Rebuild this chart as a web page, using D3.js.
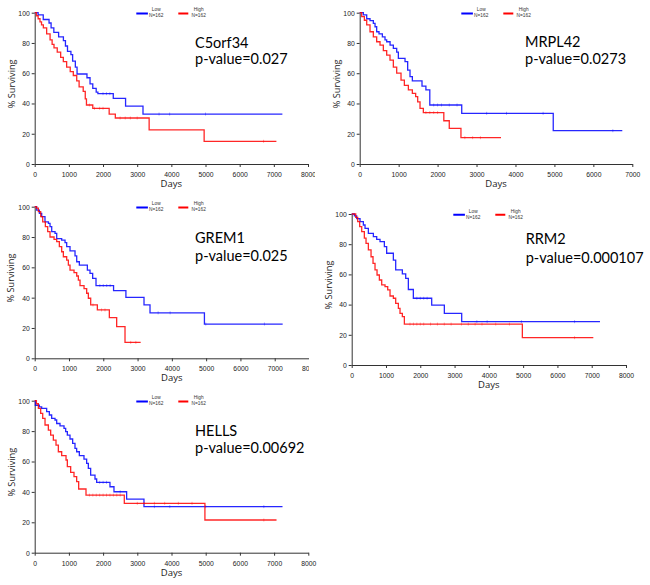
<!DOCTYPE html>
<html>
<head>
<meta charset="utf-8">
<script src="https://cdn.jsdelivr.net/npm/d3@7"></script>
<style>
body { margin: 0; background: #fff; }
svg { display: block; }
.tick text { font-family: "Liberation Sans", Arial, sans-serif; font-size: 6.8px; fill: #222; }
.domain, .tick line { stroke: #333; }
</style>
</head>
<body>
<script>
// values: [day, % surviving after the drop]
const genes = ["C5orf34", "MRPL42", "GREM1", "RRM2", "HELLS"];
const pValues = ["0.027", "0.0273", "0.025", "0.000107", "0.00692"];
const xMaxDays = [8000, 7000, 8000, 8000, 8000];
const groupNames = ["Low", "High"];
const groupN = ["N=162", "N=162"];
const yTicks = [0, 20, 40, 60, 80, 100];
const xTicks8000 = [0, 1000, 2000, 3000, 4000, 5000, 6000, 7000, 8000];
const xTicks7000 = [0, 1000, 2000, 3000, 4000, 5000, 6000, 7000];

const c5orf34Low = [[0,100],[100,98.5],[250,95.5],[420,93.2],[480,90],[560,87],[700,84],[840,81.5],[900,78],[960,74.5],[1060,72.3],[1110,68],[1190,64],[1240,59.5],[1530,57],[1620,53],[1700,50],[1800,47.5],[1850,46.5],[2300,43.4],[2660,38.3],[3170,33]];
const c5orf34High = [[0,100],[50,98],[100,96],[155,94],[200,92],[253,90],[350,86],[450,82],[510,79],[565,76.7],[660,74],[760,70.5],[838,67.6],[935,64],[1040,61],[1130,58.5],[1230,55],[1300,51],[1420,48],[1480,43],[1515,39],[1700,36.8],[2180,33],[2360,30.4],[3350,22.5],[4960,15]];
const mrpl42Low = [[0,100],[94,98.5],[180,96],[265,94.7],[350,93],[394,90.7],[436,87.4],[496,86],[582,84],[650,82],[693,80.8],[780,78.6],[864,76.4],[950,74],[993,69.8],[1164,67.6],[1232,62],[1292,57.7],[1352,55],[1600,51.5],[1700,49],[1800,39],[2620,33.5],[4970,22]];
const mrpl42High = [[0,100],[51,97.4],[120,95],[180,92],[265,87.4],[350,84],[436,80.8],[522,78.6],[607,75],[693,72],[778,68.7],[864,64],[950,60],[1061,55.5],[1147,52],[1250,49],[1352,46.7],[1437,44.5],[1489,41],[1549,36.8],[1634,34],[2160,28.6],[2300,23.5],[2600,17.4]];
const grem1Low = [[0,100],[58,97.8],[136,95.6],[204,93.4],[300,90],[400,89],[447,86.8],[496,83.5],[593,82.4],[642,79],[787,78],[885,76.3],[933,73.6],[1030,70.8],[1176,67.5],[1225,63.7],[1302,61.5],[1536,58.2],[1613,56],[1691,52.7],[1788,48],[2300,44.6],[2660,40.2],[3188,35.2],[3363,30],[4950,22.6]];
const grem1High = [[0,100],[50,99],[107,96.7],[175,93.4],[233,90],[311,86.8],[379,83.5],[447,80],[564,78.5],[642,76.9],[719,73.6],[787,70.3],[836,67],[933,64.8],[982,61.5],[1030,58.2],[1147,56.5],[1225,54.3],[1273,51.6],[1322,48],[1439,46],[1516,42.9],[1565,39.6],[1633,35.2],[1827,31.9],[2177,26.8],[2391,20.9],[2634,10.5]];
const rrm2Low = [[0,100],[78,98.7],[146,97],[243,95],[340,92.7],[389,90.5],[486,87.2],[632,85],[729,83.2],[826,81.7],[953,78.4],[1020,74],[1215,69.5],[1283,63],[1477,60.3],[1575,57.4],[1652,50],[1798,44.2],[2333,39.7],[2702,34.2],[3208,28.7]];
const rrm2High = [[0,100],[117,97.8],[175,95],[233,91.6],[292,88.3],[369,84],[418,80.6],[486,76.2],[564,71.7],[622,67.3],[680,63],[739,59.6],[807,56.3],[875,53],[972,51.9],[1050,49.7],[1118,45.7],[1215,44.2],[1283,40.8],[1361,37.5],[1409,34.2],[1477,32],[1536,27.1],[4977,18.1]];
const hellsLow = [[0,100],[20,97],[136,96],[204,95],[350,92.8],[428,90.6],[496,88.4],[594,87.3],[643,85],[740,83.5],[857,81.8],[906,79.6],[954,77.4],[1032,74.8],[1110,71.9],[1178,68.6],[1227,66.4],[1305,63.8],[1441,61.6],[1519,58.8],[1568,55.5],[1636,51.1],[1763,48.5],[1812,46.3],[2201,43.4],[2318,40.1],[2688,35.3],[3195,30.3]];
const hellsHigh = [[0,100],[50,98],[107,95],[175,91.7],[234,88.4],[302,84],[399,80.7],[467,77.4],[545,74.1],[623,70.8],[691,66.4],[789,63.8],[916,61],[954,56.6],[1052,52.9],[1149,50],[1227,46.7],[1286,41.9],[1500,37.9],[2620,32.5],[4977,21.5]];

const lowCurves = [c5orf34Low, mrpl42Low, grem1Low, rrm2Low, hellsLow];
const highCurves = [c5orf34High, mrpl42High, grem1High, rrm2High, hellsHigh];
const lowLastDay = [7250, 6743, 7232, 7241, 7246];
const highLastDay = [7075, 3628, 3091, 7047, 7071];

const lowCensored = [
  [2000, 2100, 2200, 3640, 3950, 5000],
  [1900, 2000, 2100, 2300, 2500, 3260, 3770, 4710, 6500],
  [1900, 2000, 2100, 2200, 3600, 3950, 4990, 6700],
  [1900, 2000, 2100, 2200, 3650, 3950, 4950, 6500],
  [1900, 2000, 2100, 2500, 3500, 3950, 5000, 6700]
];
const highCensored = [
  [1600, 1750, 1900, 2000, 2500, 2650, 2800, 3000, 6700],
  [1700, 1800, 1900, 2000, 2700, 2900, 3100],
  [1700, 1950, 2050, 2800, 2950],
  [1700, 1800, 1900, 2000, 2100, 2300, 2500, 2700, 2900, 3200, 3400, 3600, 3800, 4200, 4600, 6500],
  [1600, 1700, 1800, 1900, 2000, 2100, 2200, 2300, 2400, 2500, 3000, 3200, 3500, 3800, 4200, 4600, 6700]
];

// where each panel sits in the 650x585 figure
const frames = [
  {x0: 34.7, x1: 308, yTop: 12.7, yBot: 164, ylabX: 12, textX: 195, geneY: 48.3, pY: 64, clipR: 315},
  {x0: 359.7, x1: 632.3, yTop: 12.7, yBot: 164, ylabX: 337, textX: 525, geneY: 47, pY: 63.5, clipR: 650},
  {x0: 34.7, x1: 309, yTop: 206.7, yBot: 358.3, ylabX: 11, textX: 195, geneY: 243.3, pY: 261, clipR: 309},
  {x0: 351.7, x1: 626, yTop: 214, yBot: 365, ylabX: 328.5, textX: 525.7, geneY: 244.3, pY: 262.7, clipR: 650},
  {x0: 34.7, x1: 308.3, yTop: 400.7, yBot: 552.7, ylabX: 11.5, textX: 195, geneY: 436, pY: 453.3, clipR: 325}
];

const colors = ["#0000ff", "#ff0000"];

const svg = d3.select("body").append("svg")
  .attr("width", 650)
  .attr("height", 585);

frames.forEach((f, i) => {
  const clipId = "clip" + i;
  svg.append("clipPath").attr("id", clipId)
    .attr("clipPathUnits", "userSpaceOnUse")
    .append("rect")
    .attr("x", f.x0 - 40).attr("y", f.yTop - 15)
    .attr("width", f.clipR - (f.x0 - 40))
    .attr("height", f.yBot - f.yTop + 45);

  const g = svg.append("g").attr("clip-path", "url(#" + clipId + ")");

  const x = d3.scaleLinear().domain([0, xMaxDays[i]]).range([f.x0, f.x1]);
  const y = d3.scaleLinear().domain([0, 100]).range([f.yBot, f.yTop]);

  g.append("g")
    .attr("transform", "translate(0," + f.yBot + ")")
    .call(d3.axisBottom(x)
      .tickValues(xMaxDays[i] === 7000 ? xTicks7000 : xTicks8000)
      .tickFormat(d3.format("d"))
      .tickSize(3).tickSizeOuter(0).tickPadding(5));

  g.append("g")
    .attr("transform", "translate(" + f.x0 + ",0)")
    .call(d3.axisLeft(y)
      .tickValues(yTicks)
      .tickSize(3).tickSizeOuter(0).tickPadding(2))
    .selectAll(".tick text").attr("dy", "0.35em");

  g.append("text")
    .attr("x", (f.x0 + f.x1) / 2)
    .attr("y", f.yBot + 23)
    .attr("text-anchor", "middle")
    .style("font-family", "'Open Sans', sans-serif")
    .style("font-size", "9.5px")
    .style("fill", "#222")
    .text("Days");

  g.append("text")
    .attr("transform", "translate(" + f.ylabX + "," + ((f.yTop + f.yBot) / 2 - 4.5) + ") rotate(-90)")
    .attr("text-anchor", "middle")
    .attr("dy", "0.35em")
    .style("font-family", "'Open Sans', sans-serif")
    .style("font-size", "9.2px")
    .style("fill", "#222")
    .text("% Surviving");

  // curves
  const line = d3.line()
    .x(d => x(d[0]))
    .y(d => y(d[1]))
    .curve(d3.curveStepAfter);

  const series = [
    {steps: lowCurves[i], last: lowLastDay[i], cens: lowCensored[i]},
    {steps: highCurves[i], last: highLastDay[i], cens: highCensored[i]}
  ];
  const bis = d3.bisector(d => d[0]).right;

  series.forEach((s, k) => {
    const pts = s.steps.concat([[s.last, s.steps[s.steps.length - 1][1]]]);
    g.append("path")
      .attr("d", line(pts))
      .attr("fill", "none")
      .attr("stroke", colors[k])
      .attr("stroke-width", 1.3)
      .attr("stroke-opacity", 0.85);

    g.selectAll(null)
      .data(s.cens.filter(t => t <= s.last))
      .enter().append("line")
      .attr("x1", t => x(t)).attr("x2", t => x(t))
      .attr("y1", t => y(s.steps[bis(s.steps, t) - 1][1]) - 1.5)
      .attr("y2", t => y(s.steps[bis(s.steps, t) - 1][1]) + 1.5)
      .attr("stroke", colors[k])
      .attr("stroke-width", 0.6)
      .attr("stroke-opacity", 0.6);
  });

  // legend
  const leg = g.append("g").attr("transform", "translate(" + f.x0 + "," + f.yTop + ")");
  const legX = [101.6, 143.6];
  const legW = [11.6, 10];
  const legTextX = [121.5, 164];
  groupNames.forEach((name, k) => {
    leg.append("line")
      .attr("x1", legX[k]).attr("x2", legX[k] + legW[k])
      .attr("y1", 0.8).attr("y2", 0.8)
      .attr("stroke", colors[k])
      .attr("stroke-width", 2);
    leg.append("text")
      .attr("x", legTextX[k]).attr("y", -1.3)
      .attr("text-anchor", "middle")
      .style("font-family", "'Liberation Sans', Arial, sans-serif")
      .style("font-size", "4.8px")
      .style("fill", "#333")
      .text(name);
    leg.append("text")
      .attr("x", legTextX[k]).attr("y", 4.8)
      .attr("text-anchor", "middle")
      .style("font-family", "'Liberation Sans', Arial, sans-serif")
      .style("font-size", "4.8px")
      .style("fill", "#333")
      .text(groupN[k]);
  });

  // gene name and p-value
  g.append("text")
    .attr("x", f.textX).attr("y", f.geneY)
    .style("font-family", "Lato, sans-serif")
    .style("font-size", "14.5px")
    .style("fill", "#000")
    .text(genes[i]);
  g.append("text")
    .attr("x", f.textX).attr("y", f.pY)
    .style("font-family", "Lato, sans-serif")
    .style("font-size", "14.5px")
    .style("fill", "#000")
    .text("p-value=" + pValues[i]);
});
</script>
</body>
</html>
